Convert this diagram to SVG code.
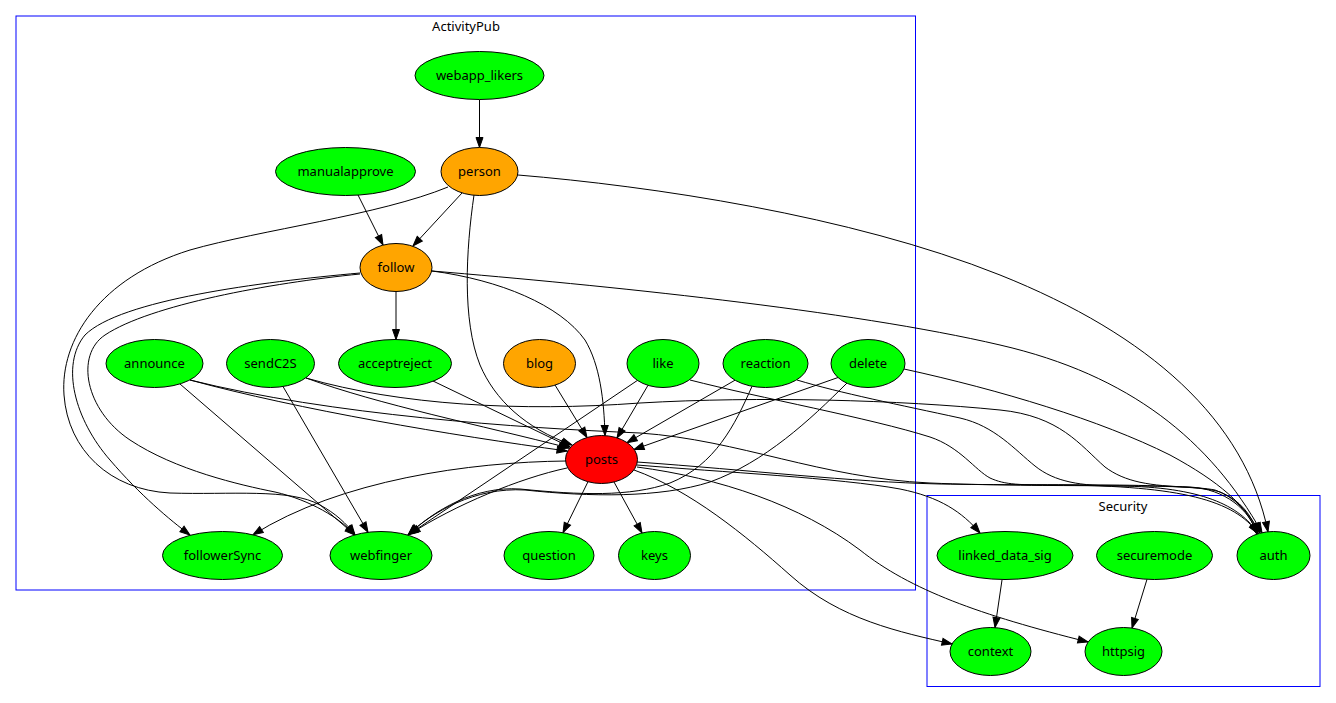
<svg xmlns="http://www.w3.org/2000/svg" width="1336" height="703" viewBox="0 0 1336 703">
<style>
.cl{fill:none;stroke:#0000ff;stroke-width:1}
.ct{font-family:"Noto Sans","Open Sans",sans-serif;font-size:13px;text-anchor:middle;fill:#000}
.n ellipse{stroke:#000;stroke-width:1}
.n text{font-family:"Noto Sans","Open Sans",sans-serif;font-size:13px;text-anchor:middle;fill:#000}
.g ellipse{fill:#00ff00}
.o ellipse{fill:#ffa500}
.r ellipse{fill:#ff0000}
#edges path{fill:none;stroke:#000;stroke-width:1;marker-end:url(#ah)}
</style>
<defs>
<marker id="ah" markerWidth="12" markerHeight="9" refX="10" refY="3.5" orient="auto" markerUnits="userSpaceOnUse" overflow="visible">
<path d="M0,0 L10,3.5 L0,7 z" fill="#000" stroke="#000" stroke-width="1"/>
</marker>
</defs>
<rect width="1336" height="703" fill="#fff"/>
<g id="cluster_activitypub">
<rect class="cl" x="16" y="16" width="899.5" height="574"/>
<text class="ct" x="466" y="31">ActivityPub</text>
</g>
<g id="cluster_security">
<rect class="cl" x="927" y="495.5" width="393" height="191"/>
<text class="ct" x="1123" y="511">Security</text>
</g>
<g id="edges">
<path d="M479.5,99.5 L479.5,147.5"/>
<path d="M358,195 L383,245"/>
<path d="M462,193 L413,246"/>
<path d="M448,187 C380,215 260,230 190,250 C100,278 60,340 64,395 C68,450 110,490 170,493 C230,495 290,488 320,505 C335,513 347,524 355,535"/>
<path d="M360,273 C260,282 120,300 85,335 C60,365 75,420 110,460 C140,495 170,520 190,535"/>
<path d="M360,274 C270,283 150,305 105,335 C75,355 85,410 130,440 C175,470 240,485 275,492 C310,500 340,518 355,535"/>
<path d="M396,291.5 L396,339.5"/>
<path d="M432,271 C500,280 560,305 585,340 C600,365 604,400 605,435.5"/>
<path d="M432,271 C600,285 850,310 1000,345 C1130,375 1210,440 1262,532.7"/>
<path d="M518,175 C650,186 850,215 1000,275 C1150,335 1245,420 1268,531.7"/>
<path d="M474,195 C466,250 462,320 480,365 C495,400 525,428 572,445"/>
<path d="M433,381 L570,447"/>
<path d="M555,385 L587,437.5"/>
<path d="M648,385.3 L617,437.9"/>
<path d="M735,380.2 L627,442.7"/>
<path d="M838,377.5 L634,449.5"/>
<path d="M190,380 C300,410 450,435 567,451"/>
<path d="M306,378 C380,405 480,425 569,448"/>
<path d="M180,384 L355,535"/>
<path d="M283,386.5 L368,532.3"/>
<path d="M638,380 L408,535"/>
<path d="M752,386.3 C735,425 715,465 670,483 C630,497 580,495 520,489 C475,486 435,510 409,534"/>
<path d="M847,383 C810,420 765,462 710,482 C660,498 590,497 525,490 C475,487 432,512 408,535"/>
<path d="M567,468 C520,478 455,505 410,534"/>
<path d="M566,461 C470,462 340,480 253,534.8"/>
<path d="M588,481.7 L563,532.7"/>
<path d="M614,482 L642,533"/>
<path d="M634,470 C690,490 745,535 790,575 C840,620 900,632 952,644"/>
<path d="M637,467 C720,478 800,505 860,550 C910,590 980,615 1088,642"/>
<path d="M637,465 C720,472 840,478 900,489 C940,497 962,512 980,533"/>
<path d="M637,462 C750,470 850,482 940,484 C1050,486 1190,482 1220,492 C1240,500 1252,515 1258,534"/>
<path d="M190,380 C330,415 520,428 640,433 C740,440 820,478 930,483 C1050,488 1180,483 1215,490 C1235,497 1250,513 1257,534"/>
<path d="M306,378 C400,405 520,412 640,403 C760,396 900,400 1000,410 C1060,416 1080,445 1105,467 C1125,482 1150,486 1190,487 C1225,489 1250,510 1257,534"/>
<path d="M797,380 C840,393 900,405 960,418 C995,426 1015,450 1035,466 C1055,482 1080,486 1120,486 C1200,487 1240,505 1258,533.6"/>
<path d="M690,380 C760,398 870,418 930,437 C960,447 975,470 990,478 C1005,485 1020,485 1060,485 C1180,486 1235,500 1258,533.6"/>
<path d="M904,369 C1000,390 1100,420 1170,455 C1220,482 1245,505 1260,533"/>
<path d="M1002,580 L995,627.6"/>
<path d="M1147,579.3 L1132,628.1"/>
</g>
<g id="webapp_likers" class="n g"><ellipse cx="479.5" cy="75.5" rx="64.5" ry="24"/><text x="479.5" y="80">webapp_likers</text></g>
<g id="person" class="n o"><ellipse cx="479.5" cy="171.5" rx="38.5" ry="24"/><text x="479.5" y="176">person</text></g>
<g id="manualapprove" class="n g"><ellipse cx="345.5" cy="171.5" rx="70" ry="24"/><text x="345.5" y="176">manualapprove</text></g>
<g id="follow" class="n o"><ellipse cx="396" cy="267.5" rx="36" ry="24"/><text x="396" y="272">follow</text></g>
<g id="announce" class="n g"><ellipse cx="154.5" cy="363.5" rx="48.5" ry="24"/><text x="154.5" y="368">announce</text></g>
<g id="sendC2S" class="n g"><ellipse cx="270.5" cy="363.5" rx="44" ry="24"/><text x="270.5" y="368">sendC2S</text></g>
<g id="acceptreject" class="n g"><ellipse cx="395" cy="363.5" rx="56.5" ry="24"/><text x="395" y="368">acceptreject</text></g>
<g id="blog" class="n o"><ellipse cx="539.5" cy="363.5" rx="36" ry="24"/><text x="539.5" y="368">blog</text></g>
<g id="like" class="n g"><ellipse cx="663" cy="363.5" rx="36" ry="24"/><text x="663" y="368">like</text></g>
<g id="reaction" class="n g"><ellipse cx="765.5" cy="363.5" rx="42.5" ry="24"/><text x="765.5" y="368">reaction</text></g>
<g id="delete" class="n g"><ellipse cx="868" cy="363.5" rx="37" ry="24"/><text x="868" y="368">delete</text></g>
<g id="posts" class="n r"><ellipse cx="601.5" cy="459.5" rx="36" ry="24"/><text x="601.5" y="464">posts</text></g>
<g id="followerSync" class="n g"><ellipse cx="222.5" cy="555.5" rx="60" ry="24"/><text x="222.5" y="560">followerSync</text></g>
<g id="webfinger" class="n g"><ellipse cx="381" cy="555.5" rx="51" ry="24"/><text x="381" y="560">webfinger</text></g>
<g id="question" class="n g"><ellipse cx="549" cy="555.5" rx="45" ry="24"/><text x="549" y="560">question</text></g>
<g id="keys" class="n g"><ellipse cx="654.5" cy="555.5" rx="36" ry="24"/><text x="654.5" y="560">keys</text></g>
<g id="linked_data_sig" class="n g"><ellipse cx="1005" cy="555.5" rx="68" ry="24"/><text x="1005" y="560">linked_data_sig</text></g>
<g id="securemode" class="n g"><ellipse cx="1154.5" cy="555.5" rx="58" ry="24"/><text x="1154.5" y="560">securemode</text></g>
<g id="auth" class="n g"><ellipse cx="1273.5" cy="555.5" rx="36.5" ry="24"/><text x="1273.5" y="560">auth</text></g>
<g id="context" class="n g"><ellipse cx="990.5" cy="651.5" rx="40.5" ry="24"/><text x="990.5" y="656">context</text></g>
<g id="httpsig" class="n g"><ellipse cx="1123.5" cy="651.5" rx="38.5" ry="24"/><text x="1123.5" y="656">httpsig</text></g>
</svg>
